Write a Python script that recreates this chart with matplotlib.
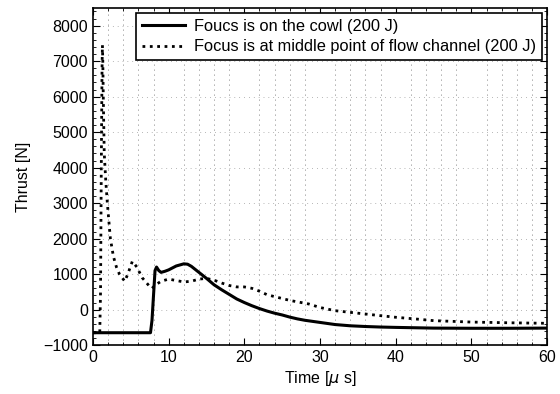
import matplotlib
matplotlib.use('Agg')
import matplotlib.pyplot as plt
from matplotlib.ticker import MultipleLocator

plt.rcParams['font.family'] = ['Liberation Sans', 'DejaVu Sans']
plt.rcParams['mathtext.fontset'] = 'dejavusans'

# focus on the cowl (200 J)
t_cowl = [0, 7.6, 7.8, 8.0, 8.2, 8.4, 8.7, 9.0, 9.5, 10, 11, 12, 12.5, 13, 14, 15,
          16, 17, 18, 19, 20, 21, 22, 23, 24, 25, 26, 27, 28, 29, 30, 32, 34,
          36, 38, 40, 45, 50, 55, 60]
f_cowl = [-650, -650, -300, 400, 1100, 1200, 1100, 1050, 1080, 1120, 1230, 1290,
          1280, 1220, 1050, 880, 700, 560, 430, 300, 200, 110, 30, -40, -100,
          -150, -210, -260, -300, -330, -360, -420, -455, -475, -490, -500,
          -520, -525, -525, -520]

# focus at middle point of flow channel (200 J)
t_mid = [0, 0.9, 1.0, 1.1, 1.2, 1.25, 1.3, 1.37, 1.49, 1.7, 1.9, 2.3, 2.7, 3.1,
         3.5, 4.2, 4.6, 5.2, 5.8, 6.5, 7.5, 7.8, 8.3, 9.0, 10, 11, 12, 13, 14,
         15, 16, 17, 18, 19, 20, 21, 22, 23, 24.5, 26, 28.5, 30, 32, 35, 38,
         40, 43, 45, 50, 55, 60]
f_mid = [-650, -650, 500, 4000, 6800, 7450, 7000, 5900, 4400, 3600, 3000, 2000,
         1500, 1200, 1000, 800, 1000, 1360, 1200, 900, 650, 600, 700, 800, 860,
         820, 780, 800, 860, 880, 830, 750, 680, 640, 640, 600, 520, 420, 340,
         260, 160, 60, -30, -100, -170, -215, -270, -310, -350, -370, -385]

label_cowl = 'Foucs is on the cowl (200 J)'
label_mid = 'Focus is at middle point of flow channel (200 J)'

fig = plt.figure(figsize=(5.6, 3.94), dpi=100)
ax = fig.add_axes([0.166, 0.124, 0.811, 0.856])

ax.plot(t_cowl, f_cowl, color='black', lw=2.2, ls='-', label=label_cowl)
ax.plot(t_mid, f_mid, color='black', lw=2.0, ls=':', label=label_mid)

ax.set_xlim(0, 60)
ax.set_ylim(-1000, 8500)
ax.xaxis.set_major_locator(MultipleLocator(10))
ax.xaxis.set_minor_locator(MultipleLocator(2))
ax.yaxis.set_major_locator(MultipleLocator(1000))
ax.yaxis.set_minor_locator(MultipleLocator(200))
ax.tick_params(which='both', direction='in', top=True, right=True, labelsize=11.5)
ax.tick_params(which='major', length=5)
ax.tick_params(which='minor', length=2.5)

ax.grid(which='minor', axis='x', color='0.35', ls=(0, (1, 5)), lw=0.6)
ax.grid(which='major', axis='y', color='0.45', ls=(0, (1, 6)), lw=0.5)
ax.set_axisbelow(True)

ax.set_xlabel(r'Time [$\mu$ s]', fontsize=11.5, labelpad=3)
ax.set_ylabel('Thrust [N]', fontsize=11.5, labelpad=9)

leg = ax.legend(loc='upper right', fontsize=11.8, fancybox=False, framealpha=1,
                edgecolor='black', handlelength=2.6, borderaxespad=0.3,
                borderpad=0.35, labelspacing=0.35, handletextpad=0.6)
leg.get_frame().set_linewidth(1.2)

for s in ax.spines.values():
    s.set_linewidth(1.2)

fig.savefig('out.png', dpi=100)
